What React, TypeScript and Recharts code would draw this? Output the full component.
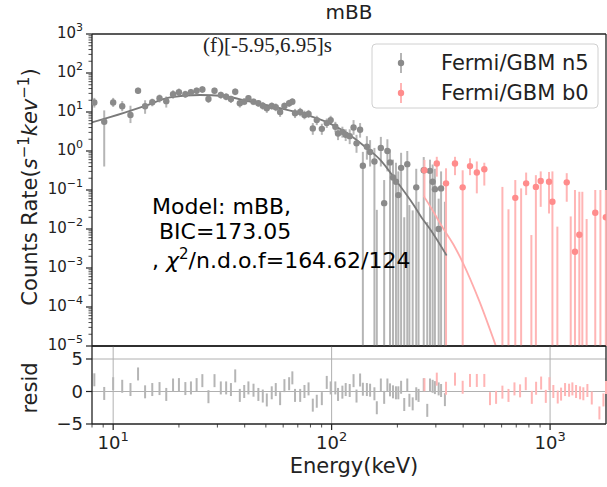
import { ComposedChart, Scatter, Line, XAxis, YAxis, ErrorBar, ReferenceLine } from "recharts";

const FONT = "DejaVu Sans, sans-serif";
const Y_MIN = 1e-5;
const Y_MAX = 1e3;
const X_MIN = 8;
const X_MAX = 1803;

// Fermi/GBM n5: energy (keV), rate, error bounds (0 = off the bottom), null rate = point below axis
const n5Energy = [
  8.2, 9.1, 10, 11, 12, 13, 14, 15.1, 16.3, 17.5, 18.8, 20, 21.4, 22.7, 24.1, 25.6, 27.3, 29.1, 31.1, 32.9,
  34.6, 36.2, 38, 39.8, 41.6, 43.9, 46.2, 48.4, 50.5, 53.2, 55.5, 58.1, 60.8, 63.9, 66.1, 68, 71.8, 75.1,
  78.4, 82, 85.5, 90.2, 95, 99, 104, 107, 112, 116,
  121, 126, 130, 135, 139, 145, 150, 157, 161, 168, 174, 180, 185, 191, 197, 202, 208, 215, 222, 227,
  235, 244, 250, 264, 274, 282, 290, 297, 309, 317, 330,
];
const n5Rate = [
  17.5, 5.6, 17.5, 14, 8.4, 35, 14, 17.8, 22.5, 19, 28.6, 32, 28.6, 32, 35, 37.9, 21.5, 35, 27.3, 24.5,
  21.5, 33, 16.7, 18.4, 22.5, 18.4, 16.7, 14.5, 12.4, 14.2, 13.2, 10, 14.2, 16.7, 18.4, 9.3, 10, 8.4,
  8.9, 3.8, 6.2, 3.7, 5.2, 6.2, 4.2, 2.8, 3.1, 2.6,
  2.4, 4.0, 1.57, 3.5, 0.42, 1.29, 0.94, 0.54, null, 1.2, 0.046, 1.0, 0.51, 0.21, 0.163, 0.074, 0.37, null,
  0.46, null, null, 0.117, null, 0.32, null, 0.31, 0.163, 0.105, 0.01, 0.11, null,
];
const n5Low = [
  13, 0.4, 13.5, 10.5, 5.2, 29, 9, 14, 17.5, 13, 22, 25, 23, 26, 29, 31, 17, 29, 22, 20,
  17, 27, 13, 15, 18, 15, 13.5, 11.5, 9.5, 11.5, 10.5, 7.5, 11.5, 13.5, 15, 7, 7.8, 6.5,
  7, 2.6, 4.6, 2.6, 3.9, 4.7, 3, 1.9, 2.2, 1.8,
  1.5, 2.6, 0.9, 2.2, 0, 0.6, 0.4, 0, 0, 0.4, 0, 0.3, 0, 0, 0, 0, 0, 0,
  0, 0, 0, 0, 0, 0, 0, 0, 0, 0, 0, 0, 0,
];
const n5High = [
  23, 11, 23, 19, 14.5, 42, 20, 22, 28, 25, 36, 40, 35, 39, 42, 46, 27, 42, 33, 30,
  26, 40, 21, 22.5, 27, 22, 20, 18, 15.5, 17.5, 16.5, 13, 17.5, 20.5, 22.5, 12, 12.8, 10.8,
  11.3, 5.2, 8, 5, 6.8, 8, 5.6, 3.9, 4.2, 3.6,
  3.6, 6.2, 2.6, 5.2, 0.95, 2.4, 1.9, 1.2, 0.031, 2.3, 0.18, 2.0, 1.1, 0.6, 0.5, 0.3, 0.9, 0.02,
  1.0, 0.041, 0.03, 0.35, 0.05, 0.7, 0.015, 0.6, 0.45, 0.35, 0.06, 0.3, 0.05,
];
const n5Resid = [
  1.8, -0.3, 1.2, 0.8, 0.3, 2.7, -0.05, 0.3, 0.45, -0.45, 1.0, 1.06, 0.45, 0.55, 1.06, 1.67, -0.8, 1.67, 0.55, 0.55,
  0.3, 2.4, -0.6, 0, 0.55, 0.2, -0.45, -0.7, -1.3, -0.2, 0.3, -1.1, 0.9, 1.2, 2.1, -0.6, -0.6, 0,
  0.4, -2.1, -1.5, -1.1, 1.4, 0.55, 0.55, -0.45, -0.1, 0.3,
  0.15, 1.67, -0.7, 1.77, 0.35, 0.3, 0.2, -0.35, -2.5, 1.0, -0.9, 1.0, 0.25, -0.05, -0.2, -0.2, 0.65, -2.0,
  1.0, -1.35, -1.9, -0.35, -0.6, 1.05, -2.9, 1.0, 0.8, 0.6, 0.4, 0.15, -1.25,
];

// Fermi/GBM b0
const b0Energy = [
  266, 303, 334, 367, 398, 430, 462, 500, 605, 645, 693, 737, 777, 821, 861, 906, 989, 1025, 1080, 1192,
  1243, 1300, 1361, 1405, 1470, 1610, 1700, 1800,
];
const b0Rate = [
  0.32, 0.48, 0.148, 0.48, 0.117, 0.41, 0.28, 0.34, null, null, 0.063, null, 0.148, null, 0.12, 0.17, 0.163,
  0.05, null, 0.157, null, 0.0026, 0.0071, null, null, 0.026, null, 0.02,
];
const b0Low = [
  0.066, 0.22, 0, 0.24, 0, 0.24, 0.082, 0.13, 0, 0, 0, 0, 0.074, 0, 0, 0.037, 0.025, 0, 0, 0.05,
  0, 0, 0, 0, 0, 0, 0, 0,
];
const b0High = [
  0.59, 0.71, 0.36, 0.71, 0.32, 0.65, 0.54, 0.5, 0.12, 0.032, 0.18, 0.11, 0.28, 0.007, 0.24, 0.3, 0.29, 0.3,
  0.0115, 0.27, 0.021, 0.1, 0.09, 0.09, 0.018, 0.1, 0.1, 0.1,
];
const b0ResidEnergy = [
  266, 303, 334, 367, 398, 430, 462, 500, 531, 566, 605, 645, 687, 729, 774, 825, 863, 910, 956, 993,
  1035, 1084, 1123, 1171, 1222, 1265, 1315, 1372, 1420, 1482, 1552, 1682, 1755, 1803,
];
const b0Resid = [
  1.05, 1.9, 0.5, 1.9, 0.65, 1.7, 1.7, 1.7, -1.1, -0.9, -0.1, -0.6, 0.4, 0.1, 1.2, -0.9, 0.5, 1.3, -0.75, 1.2,
  0, -0.85, -0.4, 0.3, 0.2, 0.4, 0, -0.2, -0.35, 0.15, -1.0, -3.3, -1.3, 0.6,
];

// fitted mBB model curves
const n5ModelEnergy = [7.9, 11.2, 14, 18.2, 25, 32, 42.4, 56, 74, 98, 121, 139, 167, 198, 237, 261, 282, 336];
const n5ModelRate = [5.3, 9.5, 14.3, 23.8, 27.3, 25.7, 18.4, 13.2, 8.9, 5.1, 2.57, 1.43, 0.59, 0.17, 0.042, 0.018, 0.01, 0.0021];
const b0ModelEnergy = [264, 287, 322, 361, 398, 476, 563];
const b0ModelRate = [0.07, 0.033, 0.011, 0.004, 0.0014, 1.35e-4, 1.05e-5];

const yMajor = [1e-5, 1e-4, 1e-3, 1e-2, 1e-1, 1, 10, 100, 1000];
const xMajor = [10, 100, 1000];
const residTicks = [-5, 0, 5];

const yMinor: number[] = [];
for (let e = -5; e < 3; e++) for (let m = 2; m <= 9; m++) yMinor.push(m * Math.pow(10, e));
const xMinor: number[] = [];
for (let e = 0; e < 4; e++)
  for (let m = 2; m <= 9; m++) {
    const v = m * Math.pow(10, e);
    if (v >= X_MIN && v <= X_MAX) xMinor.push(v);
  }

const build = (E: number[], R: (number | null)[], L: number[], H: number[]) =>
  E.map((x, i) => {
    const y = R[i] ?? H[i];
    const lo = L[i] > 0 ? L[i] : Y_MIN;
    return { x, y, shown: R[i] != null, err: [y - lo, H[i] - y] };
  });

const n5Points = build(n5Energy, n5Rate, n5Low, n5High);
const b0Points = build(b0Energy, b0Rate, b0Low, b0High);
const n5Model = n5ModelEnergy.map((x, i) => ({ x, y: n5ModelRate[i] }));
const b0Model = b0ModelEnergy.map((x, i) => ({ x, y: b0ModelRate[i] }));
const n5ResidPts = n5Energy.map((x, i) => ({ x, y: n5Resid[i], err: 1 }));
const b0ResidPts = b0ResidEnergy.map((x, i) => ({ x, y: b0Resid[i], err: 1 }));

const GRAY_DOT = "#8a8a8a";
const GRAY_BAR = "#b5b5b5";
const RED_DOT = "#ff8c8c";
const RED_BAR = "#ffb5b5";
const AXIS = "#222";

const sup = (e: number) => (e < 0 ? "\u2212" + Math.abs(e) : String(e));

const LogYTick = (props: any) => {
  const { x, y, payload } = props;
  const v = payload.value;
  const major = yMajor.includes(v);
  return (
    <g>
      <line x1={x - (major ? 6 : 3.5)} x2={x} y1={y} y2={y} stroke={AXIS} strokeWidth={major ? 1.2 : 0.8} />
      {major && (
        <text x={x - 9} y={y + 4} textAnchor="end" fontSize={15} fontFamily={FONT} fill={AXIS}>
          10<tspan dy={-7} fontSize={11}>{sup(Math.round(Math.log10(v)))}</tspan>
        </text>
      )}
    </g>
  );
};

const LogXTick = (props: any) => {
  const { x, y, payload } = props;
  const v = payload.value;
  const major = xMajor.includes(v);
  return (
    <g>
      <line x1={x} x2={x} y1={y} y2={y + (major ? 6 : 3.5)} stroke={AXIS} strokeWidth={major ? 1.2 : 0.8} />
      {major && (
        <text x={x} y={y + 25} textAnchor="middle" fontSize={18} fontFamily={FONT} fill={AXIS}>
          10<tspan dy={-8} fontSize={13}>{Math.round(Math.log10(v))}</tspan>
        </text>
      )}
    </g>
  );
};

const ResidTick = (props: any) => {
  const { x, y, payload } = props;
  const v = payload.value;
  return (
    <g>
      <line x1={x - 6} x2={x} y1={y} y2={y} stroke={AXIS} strokeWidth={1.2} />
      <text x={x - 9} y={y + 6} textAnchor="end" fontSize={18} fontFamily={FONT} fill={AXIS}>
        {v < 0 ? "\u2212" + Math.abs(v) : v}
      </text>
    </g>
  );
};

const dot = (color: string) => (p: any) =>
  p.payload && p.payload.shown ? <circle cx={p.cx} cy={p.cy} r={3.2} fill={color} /> : <g />;
const noDot = () => <g />;

export default function App() {
  return (
    <div style={{ position: "fixed", left: 0, top: 0, width: 607, height: 487, overflow: "hidden", background: "#fff" }}>
      <div style={{ position: "absolute", left: 0, top: 0 }}>
        <ComposedChart width={620} height={350} margin={{ top: 34, right: 14, bottom: 4, left: 32 }}>
          <XAxis dataKey="x" type="number" scale="log" domain={[X_MIN, X_MAX]} allowDataOverflow hide />
          <YAxis
            type="number"
            scale="log"
            domain={[Y_MIN, Y_MAX]}
            allowDataOverflow
            ticks={[...yMajor, ...yMinor]}
            interval={0}
            tick={(p: any) => <LogYTick {...p} />}
            tickLine={false}
            tickSize={0}
            tickMargin={0}
            width={60}
            axisLine={{ stroke: AXIS, strokeWidth: 1.3 }}
          />
          <ReferenceLine y={Y_MAX} stroke={AXIS} strokeWidth={1.3} ifOverflow="visible" />
          <ReferenceLine y={Y_MIN} stroke={AXIS} strokeWidth={1.3} ifOverflow="visible" />
          <ReferenceLine x={X_MAX} stroke={AXIS} strokeWidth={1.3} ifOverflow="visible" />
          <Scatter data={n5Points} dataKey="y" shape={dot(GRAY_DOT)} isAnimationActive={false}>
            <ErrorBar dataKey="err" direction="y" width={0} stroke={GRAY_BAR} strokeWidth={2} />
          </Scatter>
          <Scatter data={b0Points} dataKey="y" shape={dot(RED_DOT)} isAnimationActive={false}>
            <ErrorBar dataKey="err" direction="y" width={0} stroke={RED_BAR} strokeWidth={2} />
          </Scatter>
          <Line data={n5Model} dataKey="y" type="monotone" stroke="#7a7a7a" strokeWidth={1.8} dot={false} isAnimationActive={false} />
          <Line data={b0Model} dataKey="y" type="monotone" stroke="#ffabab" strokeWidth={1.8} dot={false} isAnimationActive={false} />
        </ComposedChart>
      </div>

      <div style={{ position: "absolute", left: 0, top: 0 }}>
        <ComposedChart width={620} height={487} margin={{ top: 346, right: 14, bottom: 23, left: 32 }}>
          <XAxis
            dataKey="x"
            type="number"
            scale="log"
            domain={[X_MIN, X_MAX]}
            allowDataOverflow
            ticks={[...xMajor, ...xMinor]}
            interval={0}
            tick={(p: any) => <LogXTick {...p} />}
            tickLine={false}
            tickSize={0}
            tickMargin={0}
            height={40}
            axisLine={{ stroke: AXIS, strokeWidth: 1.3 }}
          />
          <YAxis
            type="number"
            domain={[-5, 7]}
            allowDataOverflow
            ticks={residTicks}
            interval={0}
            tick={(p: any) => <ResidTick {...p} />}
            tickLine={false}
            tickSize={0}
            tickMargin={0}
            width={60}
            axisLine={{ stroke: AXIS, strokeWidth: 1.3 }}
          />
          {xMajor.map((v) => (
            <ReferenceLine key={"gx" + v} x={v} stroke="#b0b0b0" strokeWidth={1} />
          ))}
          <ReferenceLine y={0} stroke="#b0b0b0" strokeWidth={1} />
          <ReferenceLine y={5} stroke="#b0b0b0" strokeWidth={1} />
          <ReferenceLine y={7} stroke={AXIS} strokeWidth={1.3} ifOverflow="visible" />
          <ReferenceLine x={X_MAX} stroke={AXIS} strokeWidth={1.3} ifOverflow="visible" />
          <Scatter data={n5ResidPts} dataKey="y" shape={noDot} isAnimationActive={false}>
            <ErrorBar dataKey="err" direction="y" width={0} stroke={GRAY_BAR} strokeWidth={2} />
          </Scatter>
          <Scatter data={b0ResidPts} dataKey="y" shape={noDot} isAnimationActive={false}>
            <ErrorBar dataKey="err" direction="y" width={0} stroke={RED_BAR} strokeWidth={2} />
          </Scatter>
        </ComposedChart>
      </div>

      <svg width={607} height={487} style={{ position: "absolute", left: 0, top: 0, pointerEvents: "none" }} fontFamily={FONT}>
        <text x={349} y={19} textAnchor="middle" fontSize={20} fill={AXIS}>mBB</text>
        <text x={203} y={52} fontSize={21} fontFamily="Liberation Serif, serif" fill={AXIS}>(f)[-5.95,6.95]s</text>
        <text x={152} y={214} fontSize={22} fill="#000">Model: mBB,</text>
        <text x={152} y={239} fontSize={22} fill="#000">{"\u00a0BIC=173.05"}</text>
        <text x={152} y={268} fontSize={22} fill="#000">
          {", "}
          <tspan fontStyle="italic">χ</tspan>
          <tspan dy={-9} fontSize={15}>2</tspan>
          <tspan dy={9}>/n.d.o.f=164.62/124</tspan>
        </text>
        <text x={354} y={473} textAnchor="middle" fontSize={21} fill={AXIS}>Energy(keV)</text>
        <text transform="translate(37,187) rotate(-90)" textAnchor="middle" fontSize={21} fill={AXIS}>
          Counts Rate(<tspan fontStyle="italic">s</tspan>
          <tspan dy={-8} fontSize={15}>{"\u22121"}</tspan>
          <tspan dy={8} fontStyle="italic">kev</tspan>
          <tspan dy={-8} fontSize={15}>{"\u22121"}</tspan>
          <tspan dy={8}>)</tspan>
        </text>
        <text transform="translate(37,388) rotate(-90)" textAnchor="middle" fontSize={21} fill={AXIS}>resid</text>

        <rect x={372} y={44} width={226} height={64} rx={4} fill="#fff" fillOpacity={0.8} stroke="#d0d0d0" />
        <line x1={401} x2={401} y1={53} y2={73} stroke={GRAY_BAR} strokeWidth={2} />
        <circle cx={401} cy={63} r={3.2} fill={GRAY_DOT} />
        <text x={441} y={70} fontSize={21} fill={AXIS}>Fermi/GBM n5</text>
        <line x1={401} x2={401} y1={83} y2={103} stroke={RED_BAR} strokeWidth={2} />
        <circle cx={401} cy={93} r={3.2} fill={RED_DOT} />
        <text x={441} y={100} fontSize={21} fill={AXIS}>Fermi/GBM b0</text>
      </svg>
    </div>
  );
}
